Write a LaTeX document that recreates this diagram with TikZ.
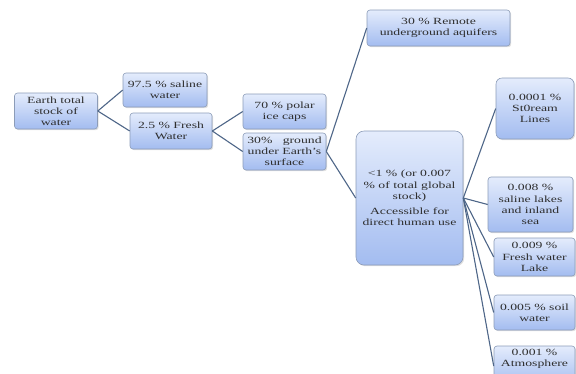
\documentclass[tikz,border=0pt]{standalone}
\usepackage{fontspec}
\setmainfont{Liberation Serif}[FakeStretch=1.45]
\usetikzlibrary{shadows}
\definecolor{boxtop}{HTML}{E4ECFC}
\definecolor{boxbot}{HTML}{A3BCF0}
\definecolor{boxline}{HTML}{8C9CB8}
\definecolor{conn}{HTML}{4E6688}
\definecolor{txt}{HTML}{2E2E2E}
\begin{document}
\begin{tikzpicture}[x=1bp,y=-1bp,
  wbox/.style={draw=boxline, line width=0.6bp, rounded corners=3bp,
    top color=boxtop, bottom color=boxbot, align=center,
    font=\fontsize{9.5}{11.2}\selectfont, text=txt, inner sep=1bp,
    drop shadow={shadow xshift=1.2bp, shadow yshift=-1.2bp, opacity=0.25}},
  link/.style={draw=conn, line width=1.1bp}]
\useasboundingbox (0,0) rectangle (576,373);
\clip (0,0) rectangle (576,373);
% level 0-2
\node[wbox, minimum width=83bp, minimum height=36bp] (earth) at (56,111) {Earth total\\stock of\\water};
\node[wbox, minimum width=84bp, minimum height=34bp] (saline) at (165,90) {97.5 \% saline\\water};
\node[wbox, minimum width=82bp, minimum height=36bp] (fresh) at (171,131) {2.5 \% Fresh\\Water};
\node[wbox, minimum width=83bp, minimum height=35bp] (polar) at (284.5,111.5) {70 \% polar\\ice caps};
\node[wbox, minimum width=83bp, minimum height=37bp] (ground) at (284.5,151.5) {30\%\ \ \ ground\\under Earth's\\surface};
\node[wbox, minimum width=143bp, minimum height=36bp] (remote) at (438.5,28) {30 \% Remote\\underground aquifers};
\node[wbox, rounded corners=8bp, minimum width=107bp, minimum height=134bp] (access) at (409.5,198)
  {{<}1 \% (or 0.007\\\% of total global\\stock)\\[4bp]Accessible for\\direct human use};
% level 4
\node[wbox, rounded corners=6bp, minimum width=78bp, minimum height=61bp] (stream) at (535,108.5) {0.0001 \%\\St0ream\\Lines};
\node[wbox, minimum width=85bp, minimum height=55bp] (lakes) at (530.5,204.5) {0.008 \%\\saline lakes\\and inland\\sea};
\node[wbox, minimum width=81bp, minimum height=38bp] (flake) at (534.5,257) {0.009 \%\\Fresh water\\Lake};
\node[wbox, minimum width=81bp, minimum height=35bp] (soil) at (534.5,312.5) {0.005 \% soil\\water};
\node[wbox, minimum width=81bp, minimum height=40bp] (atmo) at (534.5,366) {0.001 \%\\Atmosphere\\[6bp]};
% connectors
\draw[link] (earth.east) -- (saline.west);
\draw[link] (earth.east) -- (fresh.west);
\draw[link] (fresh.east) -- (polar.west);
\draw[link] (fresh.east) -- (ground.west);
\draw[link] (ground.east) -- (remote.west);
\draw[link] (ground.east) -- (access.west);
\draw[link] (access.east) -- (stream.west);
\draw[link] (access.east) -- (lakes.west);
\draw[link] (access.east) -- (flake.west);
\draw[link] (access.east) -- (soil.west);
\draw[link] (access.east) -- (atmo.west);
\end{tikzpicture}
\end{document}
